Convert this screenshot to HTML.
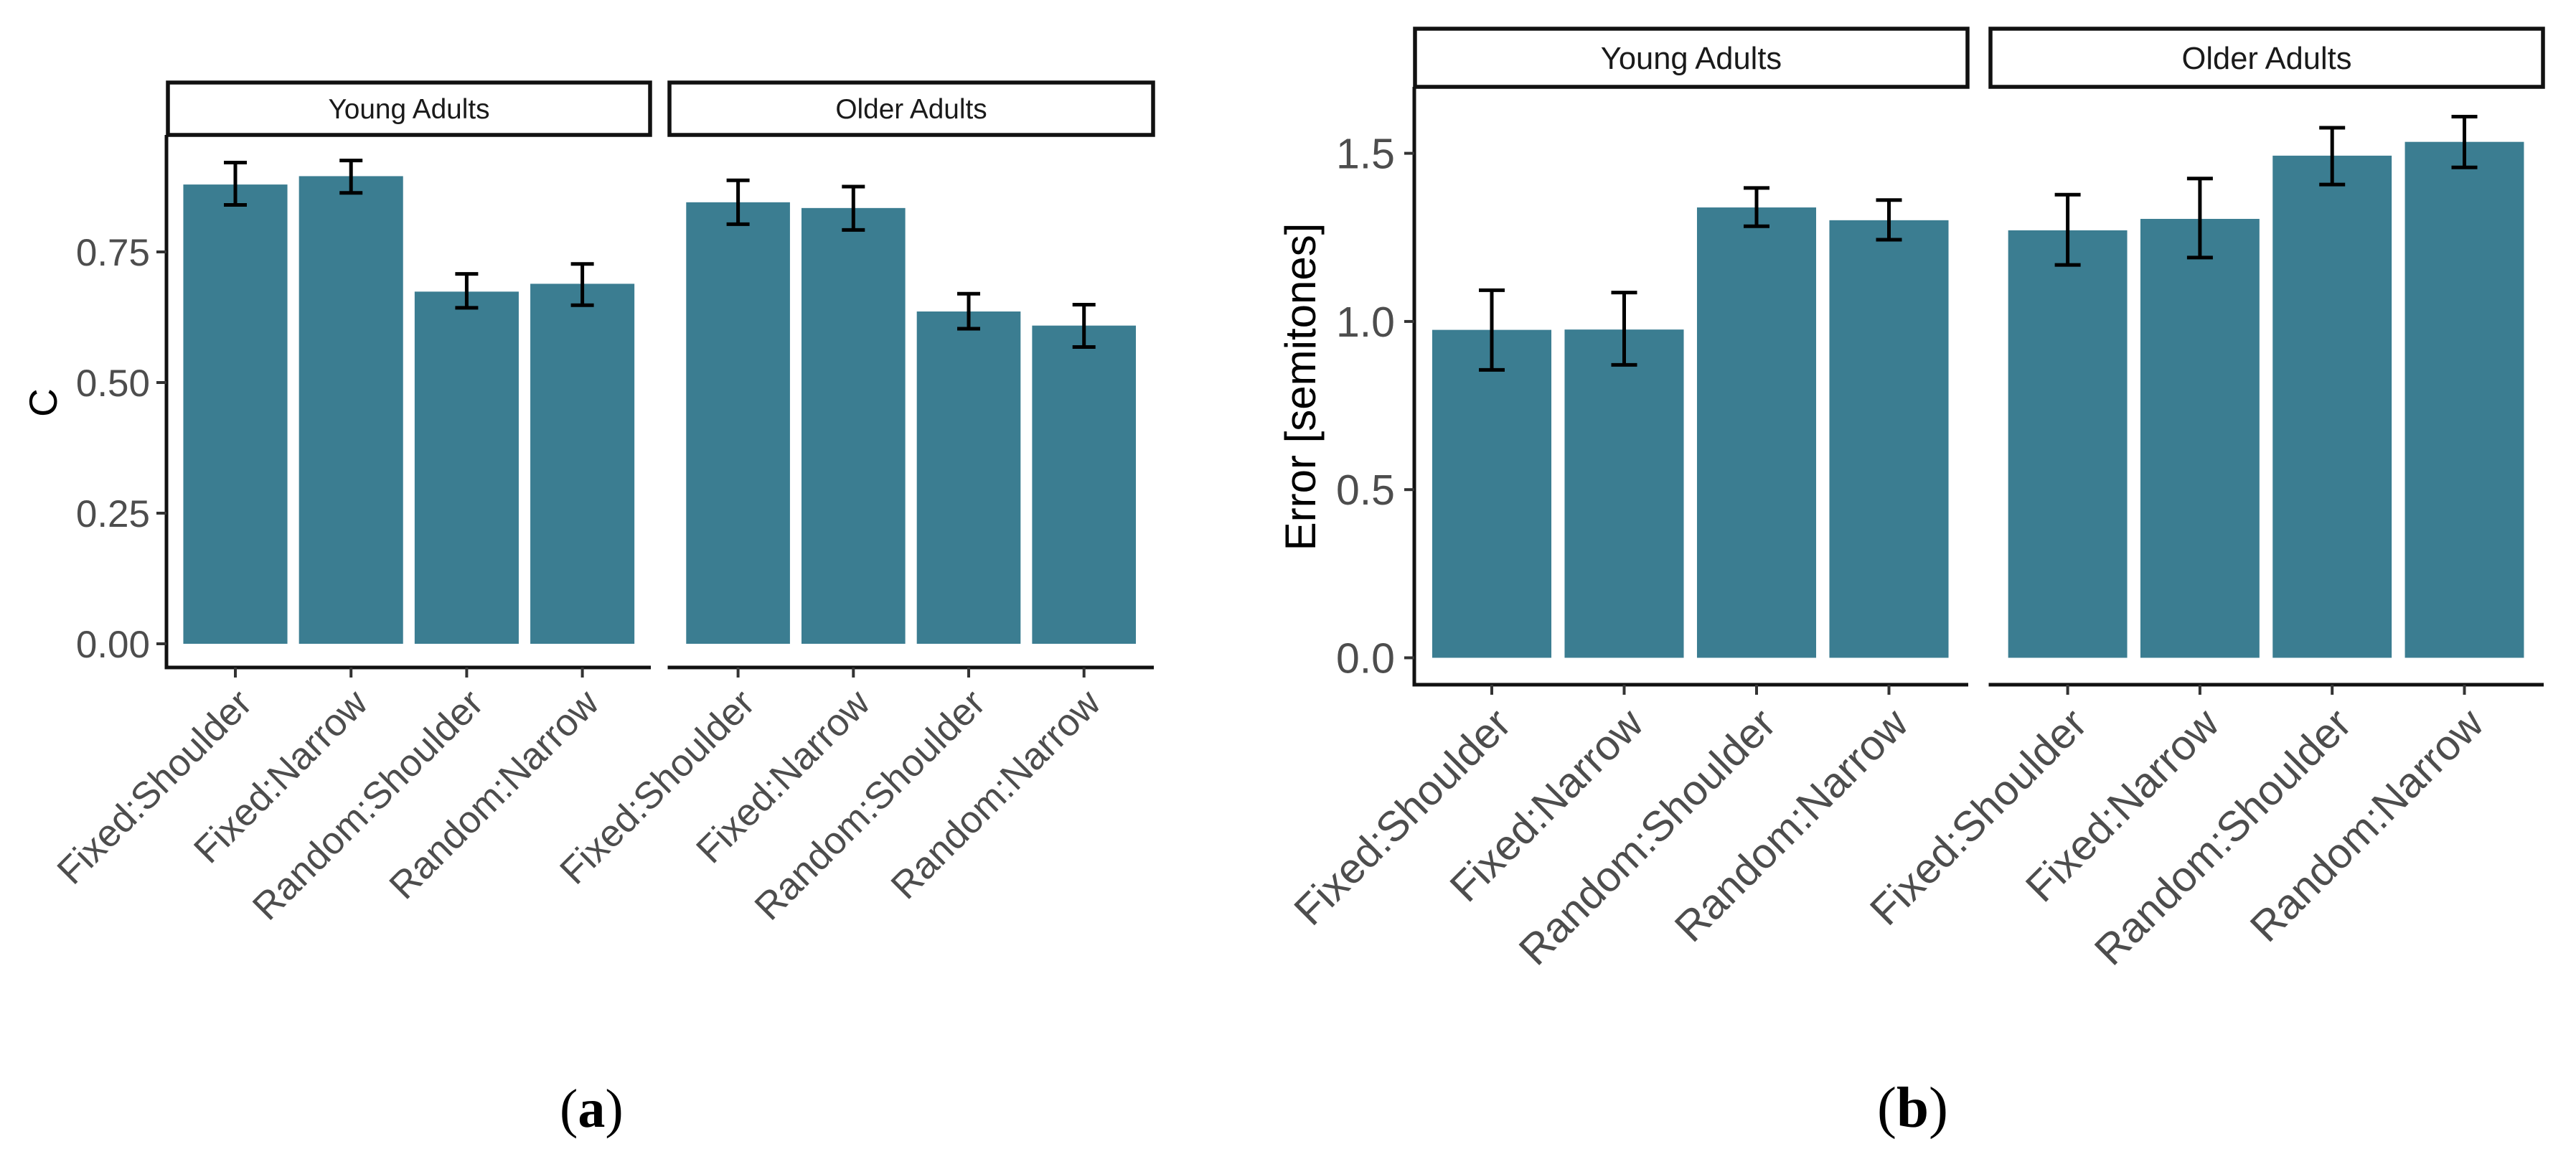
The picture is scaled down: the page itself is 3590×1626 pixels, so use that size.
<!DOCTYPE html>
<html lang="en">
<head>
<meta charset="utf-8">
<title>Bar charts of C and Error by condition and age group</title>
<style>
html,body{margin:0;padding:0;background:#fff;width:3590px;height:1626px;overflow:hidden}
svg{display:block}
text{font-family:"Liberation Sans",sans-serif}
</style>
</head>
<body>
<svg id="figure" xmlns="http://www.w3.org/2000/svg" width="3590" height="1626" viewBox="0 0 3590 1626"></svg>
<script>
const categories = ['Fixed:Shoulder', 'Fixed:Narrow', 'Random:Shoulder', 'Random:Narrow'];
const facetNames = ['Young Adults', 'Older Adults'];

const cTickValues = [0, 0.25, 0.5, 0.75];
const cTickLabels = ['0.00', '0.25', '0.50', '0.75'];
const cYoungMean = [0.879, 0.895, 0.674, 0.689];
const cYoungLow = [0.840, 0.863, 0.643, 0.648];
const cYoungHigh = [0.921, 0.925, 0.708, 0.727];
const cOlderMean = [0.845, 0.834, 0.636, 0.609];
const cOlderLow = [0.803, 0.792, 0.603, 0.568];
const cOlderHigh = [0.887, 0.875, 0.670, 0.649];

const errTickValues = [0, 0.5, 1, 1.5];
const errTickLabels = ['0.0', '0.5', '1.0', '1.5'];
const errYoungMean = [0.975, 0.976, 1.339, 1.301];
const errYoungLow = [0.856, 0.871, 1.283, 1.243];
const errYoungHigh = [1.093, 1.086, 1.397, 1.361];
const errOlderMean = [1.271, 1.305, 1.493, 1.534];
const errOlderLow = [1.168, 1.190, 1.407, 1.458];
const errOlderHigh = [1.377, 1.425, 1.576, 1.609];

const NS = 'http://www.w3.org/2000/svg';
const svg = document.getElementById('figure');

function add(parent, tag, attrs, content) {
  const el = document.createElementNS(NS, tag);
  for (const k in attrs) el.setAttribute(k, attrs[k]);
  if (content !== undefined) el.textContent = content;
  parent.appendChild(el);
  return el;
}

function drawChart(cfg) {
  const yScale = v => cfg.y0 - v * cfg.unit;
  const chart = add(svg, 'g', {});
  
  

  const yTitle = add(chart, 'text', {
    transform: 'translate(' + cfg.titleX + ' ' + cfg.titleY + ') rotate(-90)',
    'text-anchor': 'middle', 'font-size': cfg.titleSize, fill: '#000'
  }, cfg.title);
  
  

  const yAxis = add(chart, 'line', {
    x1: cfg.axisX, x2: cfg.axisX, y1: cfg.stripBottom, y2: cfg.axisY + 2.5,
    stroke: '#111', 'stroke-width': cfg.axisW
  });
  
  

  cfg.tickValues.forEach((v, i) => {
    const tick = add(chart, 'line', {
      x1: cfg.axisX - 14, x2: cfg.axisX, y1: yScale(v), y2: yScale(v),
      stroke: '#333', 'stroke-width': 4
    });
    
    
    const label = add(chart, 'text', {
      x: cfg.axisX - cfg.yLabelGap, y: yScale(v) + cfg.yLabelDy,
      'text-anchor': 'end', 'font-size': cfg.tickSize, fill: '#4d4d4d'
    }, cfg.tickLabels[i]);
    
    
  });

  cfg.facets.forEach((f, fi) => {
    const xScale = i => f.first + i * f.step;
    const facet = add(chart, 'g', {});
    
    

    const strip = add(facet, 'rect', {
      x: f.left, y: cfg.stripTop, width: f.right - f.left, height: cfg.stripBottom - cfg.stripTop,
      fill: '#fff', stroke: '#111', 'stroke-width': 5.5
    });
    
    

    const stripText = add(facet, 'text', {
      x: (f.left + f.right) / 2, y: cfg.stripBase,
      'text-anchor': 'middle', 'font-size': cfg.stripSize, fill: '#1a1a1a'
    }, facetNames[fi]);
    
    

    const xAxis = add(facet, 'line', {
      x1: f.left - 2.5, x2: f.right + 1, y1: cfg.axisY, y2: cfg.axisY,
      stroke: '#111', 'stroke-width': cfg.axisW
    });
    
    

    categories.forEach((c, i) => {
      const cx = xScale(i);
      const bw = f.step * 0.9;
      const bar = add(facet, 'rect', {
        x: cx - bw / 2, y: yScale(f.mean[i]), width: bw, height: cfg.y0 - yScale(f.mean[i]),
        fill: '#3b7d91'
      });
      
      

      const stem = add(facet, 'line', {
        x1: cx, x2: cx, y1: yScale(f.high[i]), y2: yScale(f.low[i]),
        stroke: '#000', 'stroke-width': 5
      });
      
      

      [f.high[i], f.low[i]].forEach(v => {
        const cap = add(facet, 'line', {
          x1: cx - cfg.capHalf, x2: cx + cfg.capHalf, y1: yScale(v), y2: yScale(v),
          stroke: '#000', 'stroke-width': 5
        });
        
        
      });

      const xTick = add(facet, 'line', {
        x1: cx, x2: cx, y1: cfg.axisY, y2: cfg.axisY + 14,
        stroke: '#333', 'stroke-width': 4
      });
      
      

      const lx = cx + cfg.xLabelDx;
      const xLabel = add(facet, 'text', {
        x: lx, y: cfg.xLabelY, 'text-anchor': 'end', 'font-size': cfg.tickSize, fill: '#4d4d4d',
        transform: 'rotate(-45 ' + lx + ' ' + cfg.xLabelY + ')'
      }, c);
      
      
    });
  });
}

drawChart({
  name: 'chart-c', title: 'C', titleX: 79, titleY: 561, titleSize: 55,
  y0: 897, unit: 728, axisX: 232, axisY: 930, axisW: 5,
  stripTop: 115, stripBottom: 188, stripBase: 165, stripSize: 38.8,
  tickValues: cTickValues, tickLabels: cTickLabels, tickSize: 53,
  yLabelGap: 23, yLabelDy: 19, xLabelDx: 26, xLabelY: 983, capHalf: 16,
  facets: [
    { left: 234, right: 906, first: 328, step: 161.2, mean: cYoungMean, low: cYoungLow, high: cYoungHigh },
    { left: 933, right: 1607, first: 1028.6, step: 160.7, mean: cOlderMean, low: cOlderLow, high: cOlderHigh }
  ]
});

drawChart({
  name: 'chart-error', title: 'Error [semitones]', titleX: 1833, titleY: 539, titleSize: 60,
  y0: 916.5, unit: 468.6, axisX: 1971, axisY: 954, axisW: 5,
  stripTop: 40, stripBottom: 121, stripBase: 96, stripSize: 43.5,
  tickValues: errTickValues, tickLabels: errTickLabels, tickSize: 59,
  yLabelGap: 27, yLabelDy: 21, xLabelDx: 30, xLabelY: 1012, capHalf: 18,
  facets: [
    { left: 1972, right: 2742, first: 2079, step: 184.5, mean: errYoungMean, low: errYoungLow, high: errYoungHigh },
    { left: 2774, right: 3544, first: 2881.6, step: 184.3, mean: errOlderMean, low: errOlderLow, high: errOlderHigh }
  ]
});
</script>
<svg xmlns="http://www.w3.org/2000/svg" width="3590" height="1626" viewBox="0 0 3590 1626" style="position:absolute;left:0;top:0">
  <text x="780" y="1570" style="font-family:'Liberation Serif',serif" font-size="76">(<tspan font-weight="bold">a</tspan>)</text>
  <text x="2616" y="1570" style="font-family:'Liberation Serif',serif" font-size="81">(<tspan font-weight="bold">b</tspan>)</text>
</svg>
</body>
</html>
